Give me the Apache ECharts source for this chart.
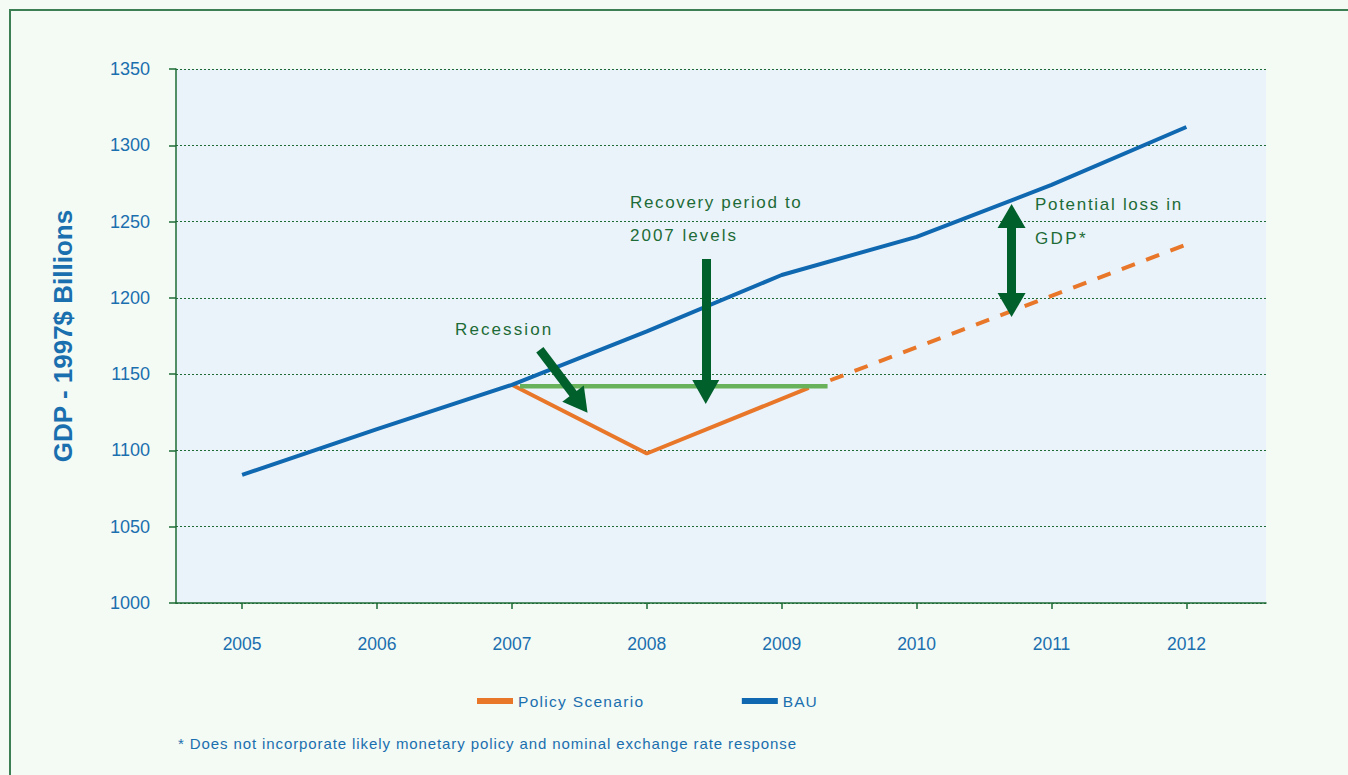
<!DOCTYPE html>
<html>
<head>
<meta charset="utf-8">
<script src="https://cdn.jsdelivr.net/npm/echarts@6/dist/echarts.min.js"></script>
<style>
  html, body { margin: 0; padding: 0; background: #f4faf4; overflow: hidden; }
  #chart { width: 1348px; height: 775px; overflow: hidden; }
</style>
</head>
<body>
<div id="chart"></div>
<script>
// ---- data ----
const years = [2005, 2006, 2007, 2008, 2009, 2010, 2011, 2012];
const bauValues = [1084, 1114, 1143, 1178, 1215, 1240, 1274, 1312];
// Policy scenario (solid part: recession and recovery)
const policyYears = [2007, 2008, 2009.2];
const policyValues = [1143, 1098, 1141];
// Policy scenario (projected, dashed part)
const policyProjYears = [2009.36, 2012];
const policyProjValues = [1146, 1235];
// Recovery level (2007 level)
const recoveryYears = [2007.06, 2009.34];
const recoveryValues = [1142, 1142];
const yTicks = [1000, 1050, 1100, 1150, 1200, 1250, 1300, 1350];
const seriesNames = ['Policy Scenario', 'BAU'];
const footnote = '* Does not incorporate likely monetary policy and nominal exchange rate response';
// annotation arrows [fromYear, fromValue, toYear, toValue]
const recessionArrow = [2007.207, 1166, 2007.507, 1131];
const recoveryArrow = [2008.437, 1225.5, 2008.437, 1138.3];
const lossArrow = [2010.704, 1253.7, 2010.704, 1195.3];

// letter tracking used by the original's annotation / legend text
const tracking = {
  'Recession': '2.1px',
  'Recovery period to': '1.65px',
  '2007 levels': '2px',
  'Potential loss in': '1.7px',
  'GDP*': '2.4px',
  'Policy Scenario': '1.3px',
  'BAU': '1px'
};
tracking[footnote] = '0.9px';

const zip = (xs, ys) => xs.map((x, i) => [x, ys[i]]);

const blue = '#1069b0';
const orange = '#e8772a';
const lightGreen = '#68b25c';
const darkGreen = '#00602b';
const axisGreen = '#1e6b35';
const textBlue = '#1a6faf';
const annGreen = '#1d6b37';
const font = 'Liberation Sans, Arial, sans-serif';

const dom = document.getElementById('chart');
const chart = echarts.init(dom, null, { renderer: 'svg' });
function applyTracking() {
  dom.querySelectorAll('text').forEach(t => {
    const ls = tracking[t.textContent];
    if (ls) t.style.letterSpacing = ls;
  });
}
chart.on('finished', applyTracking);

chart.setOption({
  animation: false,
  backgroundColor: '#f4faf4',
  textStyle: { fontFamily: font },
  title: {
    text: footnote,
    left: 173, top: 731,
    textStyle: { color: textBlue, fontSize: 15, fontWeight: 'normal', fontFamily: font }
  },
  legend: {
    data: seriesNames,
    left: 472, top: 688,
    icon: 'rect', itemWidth: 36, itemHeight: 6, itemGap: 117,
    textStyle: { color: textBlue, fontSize: 15.5, fontFamily: font },
    selectedMode: false
  },
  grid: {
    left: 176, top: 69, right: 82, bottom: 172,
    show: true, backgroundColor: '#ebf3fa', borderWidth: 0
  },
  xAxis: {
    type: 'value',
    min: 2004.51, max: 2012.59,
    minInterval: 1, maxInterval: 1,
    axisLine: { show: true, lineStyle: { color: axisGreen, width: 1.5 } },
    axisTick: { show: true, length: 6, lineStyle: { color: axisGreen, width: 1.5 } },
    splitLine: { show: false },
    axisLabel: {
      color: textBlue, fontSize: 17.5, margin: 32, fontFamily: font,
      showMinLabel: false, showMaxLabel: false,
      formatter: v => (Math.abs(v - Math.round(v)) < 1e-6 && years.indexOf(Math.round(v)) >= 0) ? String(Math.round(v)) : ''
    }
  },
  yAxis: {
    type: 'value',
    min: yTicks[0], max: yTicks[yTicks.length - 1], interval: 50,
    name: 'GDP - 1997$ Billions',
    nameLocation: 'middle', nameGap: 100, nameRotate: 90,
    nameTextStyle: { color: textBlue, fontSize: 26, fontWeight: 'bold', fontFamily: font },
    axisLine: { show: true, lineStyle: { color: axisGreen, width: 1.5 } },
    axisTick: { show: true, length: 7, lineStyle: { color: axisGreen, width: 1.5 } },
    splitLine: { show: true, lineStyle: { color: axisGreen, width: 1, type: [2, 2] } },
    axisLabel: { color: textBlue, fontSize: 18, margin: 26, fontFamily: font, formatter: v => String(v) }
  },
  series: [
    {
      name: seriesNames[0], type: 'line', color: orange,
      data: zip(policyYears, policyValues),
      symbol: 'none', lineStyle: { color: orange, width: 4 }, z: 2, silent: true
    },
    {
      name: 'Policy Scenario (projected)', type: 'line', color: orange,
      data: zip(policyProjYears, policyProjValues),
      symbol: 'none', lineStyle: { color: orange, width: 4, type: [14, 12] }, z: 2, silent: true
    },
    {
      name: 'Recovery level', type: 'line', color: lightGreen,
      data: zip(recoveryYears, recoveryValues),
      symbol: 'none', lineStyle: { color: lightGreen, width: 4.5 }, z: 3, silent: true
    },
    {
      name: seriesNames[1], type: 'line', color: blue,
      data: zip(years, bauValues),
      symbol: 'none', lineStyle: { color: blue, width: 4 }, z: 4, silent: true,
      markLine: {
        silent: true, z: 6,
        symbol: ['none', 'triangle'],
        symbolSize: [27, 24],
        label: { show: false },
        lineStyle: { color: darkGreen, width: 9, type: 'solid', opacity: 1 },
        itemStyle: { color: darkGreen },
        emphasis: { disabled: true },
        data: [
          [{ coord: [recessionArrow[0], recessionArrow[1]] }, { coord: [recessionArrow[2], recessionArrow[3]] }],
          [{ coord: [recoveryArrow[0], recoveryArrow[1]] }, { coord: [recoveryArrow[2], recoveryArrow[3]] }],
          [{ coord: [lossArrow[0], lossArrow[1]], symbol: 'triangle', symbolSize: [28, 24] },
           { coord: [lossArrow[2], lossArrow[3]], symbol: 'triangle', symbolSize: [28, 24] }]
        ]
      }
    }
  ],
  graphic: [
    { type: 'polyline', silent: true, z: -1,
      shape: { points: [[10, 775], [10, 10], [1348, 10]] },
      style: { fill: 'none', stroke: '#3b7f52', lineWidth: 2 } },
    { type: 'text', left: 455, top: 321, silent: true,
      style: { text: 'Recession', fill: annGreen, font: '17px ' + font } },
    { type: 'text', left: 630, top: 194, silent: true,
      style: { text: 'Recovery period to', fill: annGreen, font: '17px ' + font } },
    { type: 'text', left: 630, top: 227, silent: true,
      style: { text: '2007 levels', fill: annGreen, font: '17px ' + font } },
    { type: 'text', left: 1035, top: 196, silent: true,
      style: { text: 'Potential loss in', fill: annGreen, font: '17px ' + font } },
    { type: 'text', left: 1035, top: 230, silent: true,
      style: { text: 'GDP*', fill: annGreen, font: '17px ' + font } }
  ]
});
applyTracking();
</script>
</body>
</html>
